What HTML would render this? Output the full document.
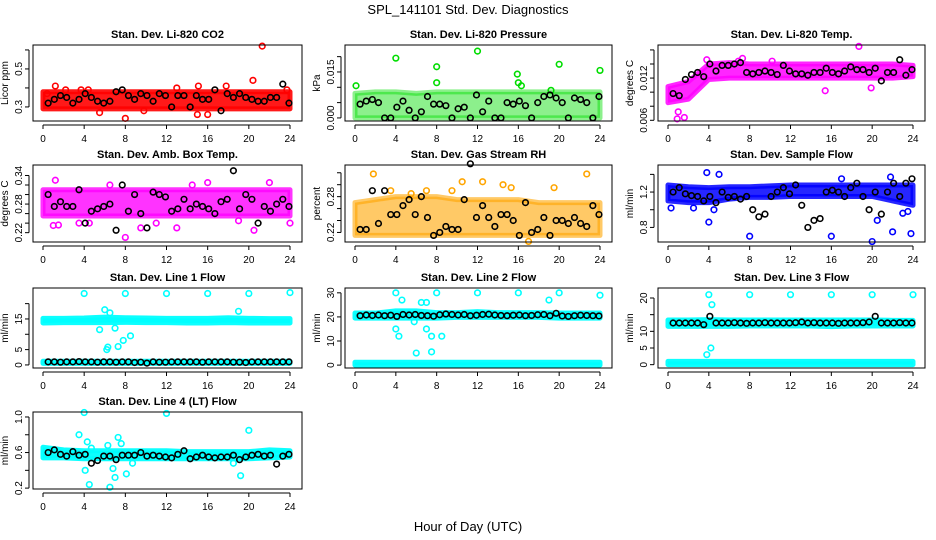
<!DOCTYPE html>
<html><head><meta charset="utf-8"><style>
html,body{margin:0;padding:0;background:#fff;}
svg{display:block;font-family:"Liberation Sans",sans-serif;}
</style></head><body>
<svg id="chart" width="936" height="540" viewBox="0 0 936 540" xmlns="http://www.w3.org/2000/svg">
<rect width="936" height="540" fill="#fff"/>
<text x="468" y="14" text-anchor="middle" font-size="13">SPL_141101  Std. Dev. Diagnostics</text>
<text x="468" y="531" text-anchor="middle" font-size="13">Hour of Day (UTC)</text>
</svg>
<script>
// ---- data ----
const bandHours = [0,2,4,6,8,10,12,14,16,18,20,22,24];
const xTicks = [0,4,8,12,16,20,24];

const p1Means = [0.32,0.34,0.36,0.35,0.32,0.34,0.37,0.35,0.33,0.32,0.33,0.38,0.39,0.36,0.34,0.37,0.36,0.33,0.37,0.36,0.30,0.36,0.36,0.30,0.36,0.34,0.34,0.39,0.28,0.37,0.35,0.37,0.35,0.34,0.33,0.33,0.35,0.35,0.42,0.32];
const p1BandLo = [0.29,0.29,0.29,0.29,0.29,0.29,0.29,0.29,0.29,0.29,0.29,0.29,0.29];
const p1BandHi = [0.38,0.38,0.38,0.38,0.38,0.38,0.38,0.38,0.38,0.38,0.38,0.38,0.38];
const p1OutX = [1.2,0.4,2.2,5.5,8,9.8,15.1,15,16,20.4,21.3,23.7,17.8,13,3.7,4.4];
const p1OutY = [0.41,0.37,0.39,0.27,0.24,0.28,0.41,0.26,0.26,0.44,0.62,0.39,0.41,0.40,0.39,0.39];

const p2Means = [0.0045,0.0055,0.0060,0.0050,0.0000,0.0000,0.0035,0.0055,0.0025,0.0000,0.0020,0.0070,0.0045,0.0045,0.0040,0.0000,0.0030,0.0035,0.0000,0.0075,0.0020,0.0055,0.0000,0.0000,0.0050,0.0045,0.0055,0.0040,0.0000,0.0050,0.0070,0.0075,0.0065,0.0050,0.0000,0.0065,0.0060,0.0050,0.0000,0.0070];
const p2BandLo = [0,0,0,0,0,0,0,0,0,0,0,0,0];
const p2BandHi = [0.0080,0.0085,0.0085,0.0080,0.0085,0.0085,0.0085,0.0085,0.0085,0.0085,0.0085,0.0085,0.0085];
const p2OutX = [0.1,4,8,8,12,15.9,16,16.3,20,24,19.2];
const p2OutY = [0.0105,0.0195,0.0167,0.0115,0.0218,0.0143,0.0115,0.0105,0.0175,0.0155,0.0090];

const p3Means = [0.0098,0.0095,0.0118,0.0125,0.0128,0.0122,0.0140,0.0130,0.0138,0.0138,0.0140,0.0142,0.0128,0.0126,0.0128,0.0130,0.0128,0.0125,0.0138,0.0130,0.0126,0.0126,0.0124,0.0128,0.0128,0.0134,0.0128,0.0126,0.0130,0.0136,0.0132,0.0132,0.0128,0.0134,0.0116,0.0128,0.0128,0.0146,0.0124,0.0132];
const p3BandLo = [0.0085,0.0090,0.0118,0.0120,0.0120,0.0120,0.0120,0.0120,0.0120,0.0120,0.0120,0.0120,0.0122];
const p3BandHi = [0.0108,0.0115,0.0140,0.0142,0.0140,0.0140,0.0140,0.0140,0.0140,0.0140,0.0140,0.0140,0.0138];
const p3OutX = [0.9,1.6,1.0,7.3,18.7,15.4,19.9,3.8,6.9,10.2];
const p3OutY = [0.0062,0.0064,0.0072,0.0148,0.0165,0.0102,0.0106,0.0146,0.0144,0.0144];

const p4Means = [0.30,0.275,0.285,0.275,0.275,0.31,0.24,0.265,0.27,0.275,0.28,0.225,0.32,0.265,0.30,0.26,0.23,0.305,0.30,0.295,0.265,0.27,0.29,0.27,0.28,0.275,0.27,0.26,0.285,0.29,0.35,0.27,0.30,0.29,0.24,0.275,0.265,0.28,0.29,0.275];
const p4BandLo = [0.255,0.255,0.255,0.255,0.255,0.255,0.255,0.255,0.255,0.255,0.255,0.255,0.255];
const p4BandHi = [0.310,0.310,0.310,0.310,0.310,0.310,0.310,0.310,0.310,0.310,0.310,0.310,0.310];
const p4OutX = [1.2,6.5,1.0,1.5,4.5,8,13,14.5,9.5,20.5,24,22,16,3.5,11,19];
const p4OutY = [0.33,0.32,0.235,0.236,0.24,0.21,0.23,0.32,0.23,0.225,0.24,0.325,0.325,0.24,0.24,0.245];

const p5Means = [0.225,0.225,0.29,0.235,0.29,0.25,0.25,0.265,0.275,0.25,0.28,0.245,0.215,0.22,0.23,0.225,0.225,0.275,0.335,0.245,0.265,0.245,0.23,0.25,0.25,0.24,0.215,0.27,0.22,0.225,0.245,0.215,0.24,0.24,0.235,0.245,0.235,0.23,0.265,0.25];
const p5BandLo = [0.215,0.215,0.215,0.215,0.215,0.215,0.215,0.215,0.215,0.215,0.215,0.215,0.215];
const p5BandHi = [0.270,0.275,0.280,0.280,0.280,0.275,0.275,0.275,0.275,0.270,0.270,0.270,0.270];
const p5OutX = [1.8,22.7,14.5,12.5,17,10.5,7,9.5,19.5,3.5,5.5,15.3];
const p5OutY = [0.318,0.318,0.300,0.305,0.205,0.305,0.29,0.29,0.295,0.29,0.285,0.295];

const p6Means = [1.2,1.25,1.18,1.16,1.15,1.1,1.15,1.08,1.2,1.14,1.15,1.12,1.15,1.0,0.92,0.95,1.15,1.2,1.25,1.18,1.28,1.05,0.8,0.88,0.9,1.2,1.22,1.2,1.15,1.25,1.3,1.15,1.0,1.2,0.95,1.2,1.3,1.15,1.3,1.35];
const p6BandLo = [1.10,1.08,1.08,1.12,1.14,1.14,1.15,1.15,1.15,1.15,1.15,1.10,1.05];
const p6BandHi = [1.28,1.26,1.25,1.26,1.26,1.27,1.28,1.28,1.28,1.28,1.28,1.28,1.28];
const p6OutX = [0.3,3.8,4.0,5.0,8,16,20,22,23.8,21.8,17,23,23.5,4.5,2.5,20.5];
const p6OutY = [1.02,1.42,0.86,1.40,0.70,0.70,0.64,0.75,0.73,1.37,1.35,0.96,0.98,1.0,1.02,0.88];

const p7Means = [1.0,1.0,0.9,1.0,1.0,1.1,1.0,1.0,0.9,1.0,1.0,0.9,1.0,1.0,0.8,0.9,0.6,1.0,0.9,0.9,1.0,1.0,1.0,1.0,1.0,0.9,1.0,1.0,1.0,1.0,0.9,0.9,0.8,1.0,1.0,1.0,1.0,1.0,1.0,1.0];
const p7BandLo = [13.7,13.8,13.8,13.8,13.9,13.8,13.8,13.7,13.7,13.8,13.7,13.7,13.7];
const p7BandHi = [15.2,15.2,15.3,15.6,15.4,15.3,15.2,15.2,15.2,15.4,15.2,15.1,15.1];
const p7Band2Lo = [0.5,0.5,0.5,0.5,0.5,0.5,0.5,0.5,0.5,0.5,0.5,0.5,0.5];
const p7Band2Hi = [1.2,1.2,1.2,1.2,1.2,1.2,1.2,1.2,1.2,1.2,1.2,1.2,1.2];
const p7OutX = [4,8,12,16,20,24,6,6.5,6.2,7.3,7.8,8.5,5.5,7,19,6.3];
const p7OutY = [23.3,23.3,23.3,23.3,23.3,23.6,18,17,5,6,8,9.5,11.5,12,17.5,5.8];

const p8Means = [20.5,20.8,20.6,20.8,20.5,20.7,20.2,21,20.8,21,20.6,20.5,20.3,20.9,21.2,21,20.8,21,20.5,20.7,21,21.1,20.8,20.6,20.5,20.7,20.8,20.5,20.6,20.9,21,20.5,21.5,20.4,20.2,20.5,20.7,20.6,20.5,20.4];
const p8BandLo = [19.5,19.5,19.5,19.5,19.5,19.8,19.8,19.8,19.8,19.8,19.5,19.5,19.5];
const p8BandHi = [21.6,21.6,22.5,22.5,21.8,21.8,22.2,21.8,21.8,21.8,21.6,21.6,21.6];
const p8Band2Lo = [0,0,0,0,0,0,0,0,0,0,0,0,0];
const p8Band2Hi = [1.2,1.2,1.2,1.2,1.2,1.2,1.2,1.2,1.2,1.2,1.2,1.2,1.2];
const p8OutX = [4,8,12,16,20,24,4,4.3,6,7,7.5,7.5,8.5,6.5,7,19,4.6,5.8];
const p8OutY = [30,30,30,30,30,29,15,12,5,15,12,5.5,12,26,26,27,27,18];

const p9Means = [12.5,12.5,12.5,12.5,12.5,12.0,14.5,12.5,12.5,12.5,12.6,12.5,12.4,12.5,12.5,12.6,12.5,12.5,12.5,12.5,12.6,12.8,12.5,12.6,12.5,12.5,12.5,12.4,12.5,12.5,12.5,12.6,12.8,14.5,12.5,12.5,12.5,12.6,12.5,12.5];
const p9BandLo = [11.5,11.5,11.5,11.5,11.6,11.6,11.6,11.6,11.4,11.6,11.6,11.6,11.6];
const p9BandHi = [13.4,13.4,13.5,13.4,13.4,13.4,13.4,13.4,13.4,13.4,13.4,13.3,13.3];
const p9Band2Lo = [0,0,0,0,0,0,0,0,0,0,0,0,0];
const p9Band2Hi = [1.0,1.0,1.0,1.0,1.0,1.0,1.0,1.0,1.0,1.0,1.0,1.0,1.0];
const p9OutX = [4,8,12,16,20,24,4.3,3.8,4.2];
const p9OutY = [21,21,21,21,21,21,18,3,5];

const p10Means = [0.60,0.63,0.58,0.56,0.61,0.57,0.58,0.48,0.51,0.56,0.56,0.52,0.57,0.57,0.57,0.60,0.56,0.57,0.56,0.55,0.54,0.58,0.62,0.53,0.55,0.57,0.55,0.54,0.55,0.55,0.57,0.52,0.55,0.57,0.58,0.56,0.57,0.47,0.56,0.58];
const p10BandLo = [0.54,0.54,0.53,0.53,0.53,0.53,0.53,0.53,0.53,0.53,0.53,0.54,0.55];
const p10BandHi = [0.66,0.63,0.62,0.62,0.62,0.62,0.62,0.61,0.61,0.61,0.61,0.63,0.62];
const p10OutX = [4,12,20,3.5,4.3,7.3,7.6,4.1,4.5,6.5,6.8,7,8.1,19.2,8.7,18.5,6.3,4.7];
const p10OutY = [1.05,1.04,0.85,0.80,0.72,0.77,0.70,0.40,0.24,0.21,0.42,0.32,0.36,0.34,0.48,0.48,0.68,0.65];

const p1Ticks=[0.3,0.4,0.5,0.6], p1Labels=["0.3","","0.5",""];
const p2Ticks=[0,0.005,0.01,0.015,0.02], p2Labels=["0.000","","","0.015",""];
const p3Ticks=[0.006,0.008,0.010,0.012,0.014,0.016], p3Labels=["0.006","","","0.012","",""];
const p4Ticks=[0.22,0.24,0.26,0.28,0.30,0.32,0.34], p4Labels=["0.22","","","0.28","","","0.34"];
const p5Ticks=[0.22,0.24,0.26,0.28,0.30,0.32], p5Labels=["0.22","","","0.28","",""];
const p6Ticks=[0.8,1.0,1.2,1.4], p6Labels=["0.8","","1.2",""];
const p7Ticks=[0,5,10,15,20], p7Labels=["0","5","","15",""];
const p8Ticks=[0,10,20,30], p8Labels=["0","10","20","30"];
const p9Ticks=[0,5,10,15,20], p9Labels=["0","5","10","","20"];
const p10Ticks=[0.2,0.4,0.6,0.8,1.0], p10Labels=["0.2","","0.6","","1.0"];

// ---- layout ----
const colL=[33,345,658], colR=[302,612,925];
const rowT=[45,165,288,412], rowB=[121,242,368,489];
const panels=[
 {id:"co2",title:"Stan. Dev. Li-820 CO2",yl:"Licor ppm",c:0,r:0,dom:[0.226,0.626],col:"#ff0000",op:0.9,means:p1Means,bands:[[p1BandLo,p1BandHi]],ox:p1OutX,oy:p1OutY,t:p1Ticks,tl:p1Labels},
 {id:"pressure",title:"Stan. Dev. Li-820 Pressure",yl:"kPa",c:1,r:0,dom:[-0.001,0.0238],col:"#00dd00",op:0.45,means:p2Means,bands:[[p2BandLo,p2BandHi]],ox:p2OutX,oy:p2OutY,t:p2Ticks,tl:p2Labels},
 {id:"temp",title:"Stan. Dev. Li-820 Temp.",yl:"degrees C",c:2,r:0,dom:[0.0059,0.0167],col:"#ff00ff",op:0.85,means:p3Means,bands:[[p3BandLo,p3BandHi]],ox:p3OutX,oy:p3OutY,t:p3Ticks,tl:p3Labels},
 {id:"amb-box-temp",title:"Stan. Dev. Amb. Box Temp.",yl:"degrees C",c:0,r:1,dom:[0.2004,0.362],col:"#ff00ff",op:0.8,means:p4Means,bands:[[p4BandLo,p4BandHi]],ox:p4OutX,oy:p4OutY,t:p4Ticks,tl:p4Labels},
 {id:"gas-rh",title:"Stan. Dev. Gas Stream RH",yl:"percent",c:1,r:1,dom:[0.204,0.333],col:"#ffa500",op:0.6,means:p5Means,bands:[[p5BandLo,p5BandHi]],ox:p5OutX,oy:p5OutY,t:p5Ticks,tl:p5Labels},
 {id:"sample-flow",title:"Stan. Dev. Sample Flow",yl:"ml/min",c:2,r:1,dom:[0.635,1.506],col:"#0000ff",op:0.85,means:p6Means,bands:[[p6BandLo,p6BandHi]],ox:p6OutX,oy:p6OutY,t:p6Ticks,tl:p6Labels},
 {id:"line1-flow",title:"Stan. Dev. Line 1 Flow",yl:"ml/min",c:0,r:2,dom:[-1,25.1],col:"#00ffff",op:0.95,means:p7Means,bands:[[p7BandLo,p7BandHi],[p7Band2Lo,p7Band2Hi]],ox:p7OutX,oy:p7OutY,t:p7Ticks,tl:p7Labels},
 {id:"line2-flow",title:"Stan. Dev. Line 2 Flow",yl:"ml/min",c:1,r:2,dom:[-1.2,32],col:"#00ffff",op:0.95,means:p8Means,bands:[[p8BandLo,p8BandHi],[p8Band2Lo,p8Band2Hi]],ox:p8OutX,oy:p8OutY,t:p8Ticks,tl:p8Labels},
 {id:"line3-flow",title:"Stan. Dev. Line 3 Flow",yl:"ml/min",c:2,r:2,dom:[-1,23],col:"#00ffff",op:0.95,means:p9Means,bands:[[p9BandLo,p9BandHi],[p9Band2Lo,p9Band2Hi]],ox:p9OutX,oy:p9OutY,t:p9Ticks,tl:p9Labels},
 {id:"line4-flow",title:"Stan. Dev. Line 4 (LT) Flow",yl:"ml/min",c:0,r:3,dom:[0.19,1.056],col:"#00ffff",op:0.95,means:p10Means,bands:[[p10BandLo,p10BandHi]],ox:p10OutX,oy:p10OutY,t:p10Ticks,tl:p10Labels}
];

const NS="http://www.w3.org/2000/svg";
const svg=document.getElementById("chart");
function mk(tag,attrs,parent){const e=document.createElementNS(NS,tag);for(const k in attrs)e.setAttribute(k,attrs[k]);(parent||svg).appendChild(e);return e;}

panels.forEach(p=>{
  const L=colL[p.c],R=colR[p.c],T=rowT[p.r],B=rowB[p.r];
  const xs=h=>L+10+(R-12-(L+10))*h/24;
  const ys=v=>B-(v-p.dom[0])/(p.dom[1]-p.dom[0])*(B-T);
  const g=mk("g",{});
  
  
  const tt=mk("text",{x:(L+R)/2,y:T-7,"text-anchor":"middle","font-size":"11","font-weight":"bold"},g);
  tt.textContent=p.title;
  
  
  p.bands.forEach((b,bi)=>{
    let pts=bandHours.map((h,i)=>xs(h)+","+ys(b[1][i]));
    pts=pts.concat(bandHours.map((h,i)=>[h,i]).reverse().map(([h,i])=>xs(h)+","+ys(b[0][i])));
    const pg=mk("polygon",{points:pts.join(" "),fill:p.col,"fill-opacity":p.op,stroke:p.col,"stroke-width":"5","stroke-opacity":p.op,"stroke-linejoin":"round"},g);
    
    
  });
  p.ox.forEach((h,i)=>{
    const c=mk("circle",{cx:xs(h),cy:ys(p.oy[i]),r:2.8,fill:"none",stroke:p.col,"stroke-width":"1.6"},g);
    
    
  });
  p.means.forEach((v,i)=>{
    const c=mk("circle",{cx:xs(0.5+i*0.6),cy:ys(v),r:2.8,fill:"none",stroke:"#000","stroke-width":"1.6"},g);
    
    
  });
  const bx=mk("rect",{x:L,y:T,width:R-L,height:B-T,fill:"none",stroke:"#000","stroke-width":"1"},g);
  
  
  mk("line",{x1:xs(0),x2:xs(24),y1:B+4,y2:B+4,stroke:"#000"},g);
  xTicks.forEach(h=>{
    mk("line",{x1:xs(h),x2:xs(h),y1:B+4,y2:B+8,stroke:"#000"},g);
    const t=mk("text",{x:xs(h),y:B+21,"text-anchor":"middle","font-size":"10"},g);
    t.textContent=h;
    
    
  });
  mk("line",{x1:L-4,x2:L-4,y1:ys(p.t[0]),y2:ys(p.t[p.t.length-1]),stroke:"#000"},g);
  p.t.forEach((v,i)=>{
    const y=ys(v);
    mk("line",{x1:L-8,x2:L-4,y1:y,y2:y,stroke:"#000"},g);
    if(p.tl[i]){
      const t=mk("text",{x:L-11,y:y,"text-anchor":"middle","font-size":"10",transform:`rotate(-90 ${L-11} ${y})`},g);
      t.textContent=p.tl[i];
      
      
    }
  });
  const yt=mk("text",{x:L-25,y:(T+B)/2,"text-anchor":"middle","font-size":"10",transform:`rotate(-90 ${L-25} ${(T+B)/2})`},g);
  yt.textContent=p.yl;
  
  
});
</script>
</body></html>
